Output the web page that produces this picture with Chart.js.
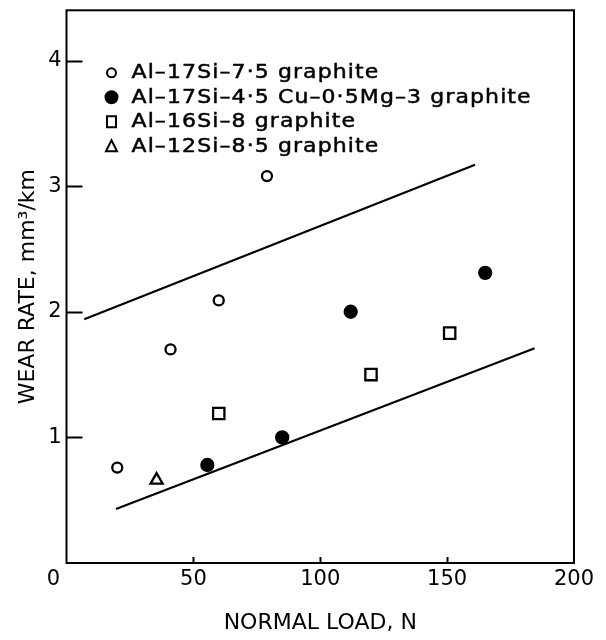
<!DOCTYPE html>
<html><head><meta charset="utf-8">
<script src="https://cdn.jsdelivr.net/npm/chart.js@4/dist/chart.umd.min.js"></script>
<style>html,body{margin:0;padding:0;background:#fff;}</style>
</head><body>
<canvas id="c" width="606" height="640"></canvas>
<script>
// ---- data ----
const seriesLabels = ['Al–17Si–7·5 graphite', 'Al–17Si–4·5 Cu–0·5Mg–3 graphite', 'Al–16Si–8 graphite', 'Al–12Si–8·5 graphite'];
const openCircleX = [20, 41, 60, 79];
const openCircleY = [0.76, 1.70, 2.09, 3.08];
const filledCircleX = [55.5, 85, 112, 165];
const filledCircleY = [0.78, 1.00, 2.00, 2.31];
const squareX = [60, 120, 151];
const squareY = [1.19, 1.50, 1.83];
const triangleX = [35.5];
const triangleY = [0.66];
const upperBandX = [7, 161];
const upperBandY = [1.94, 3.17];
const lowerBandX = [19.5, 184.5];
const lowerBandY = [0.43, 1.71];
const xTicks = [0, 50, 100, 150, 200];
const yTicks = [1, 2, 3, 4];
const xTitle = 'NORMAL LOAD, N';
const yTitle = 'WEAR RATE, mm³/km';

const ink = '#000';
const fam = "'DejaVu Sans', sans-serif";
const pts = (xs, ys) => xs.map((x, i) => ({x, y: ys[i]}));

const markerStyles = [
  {style: 'circle', r: 5, fill: '#fff'},
  {style: 'circle', r: 6, fill: ink},
  {style: 'rect', r: 8, fill: '#fff'},
  {style: 'triangle', r: 7, fill: '#fff'}
];

const framePlugin = {
  id: 'frame',
  afterDraw(chart) {
    const {ctx, chartArea: a, scales} = chart;
    ctx.save();
    ctx.strokeStyle = ink;
    ctx.lineWidth = 2;
    ctx.strokeRect(a.left, a.top, a.right - a.left, a.bottom - a.top);
    ctx.beginPath();
    scales.y.ticks.forEach(t => {
      const py = Math.round(scales.y.getPixelForValue(t.value)) + 0.5;
      ctx.moveTo(a.left, py); ctx.lineTo(a.left + 16, py);
    });
    scales.x.ticks.forEach(t => {
      if (t.value <= 0 || t.value >= 200) return;
      const px = Math.round(scales.x.getPixelForValue(t.value)) + 0.5;
      ctx.moveTo(px, a.bottom); ctx.lineTo(px, a.bottom - 6);
    });
    ctx.stroke();

    // shared origin label at the lower-left corner
    ctx.fillStyle = ink;
    ctx.font = '21px ' + fam;
    ctx.textAlign = 'center';
    ctx.textBaseline = 'middle';
    ctx.fillText('0', a.left - 13, scales.x.top + 4 + 12.6);

    // legend inside the plot area
    const mx = a.left + 45, tx = a.left + 65;
    seriesLabels.forEach((lab, i) => {
      const y = a.top + 62.5 + i * 24.5;
      const m = markerStyles[i];
      ctx.lineWidth = 2;
      ctx.strokeStyle = ink;
      ctx.fillStyle = m.fill;
      ctx.beginPath();
      if (i === 0) {
        ctx.arc(mx, y, 4.5, 0, Math.PI * 2);
      } else if (i === 1) {
        ctx.arc(mx, y, 6, 0, Math.PI * 2);
      } else if (i === 2) {
        ctx.rect(mx - 4.5, y - 5.5, 9, 11);
      } else {
        ctx.moveTo(mx, y - 6); ctx.lineTo(mx + 5.5, y + 5); ctx.lineTo(mx - 5.5, y + 5); ctx.closePath();
      }
      ctx.fill(); ctx.stroke();
      ctx.save();
      ctx.fillStyle = ink;
      ctx.strokeStyle = ink;
      ctx.lineWidth = 0.5;
      ctx.font = '20px ' + fam;
      ctx.textAlign = 'left';
      ctx.textBaseline = 'middle';
      try { ctx.letterSpacing = '1px'; } catch (e) {}
      ctx.translate(tx, y);
      ctx.scale(1.1, 1);
      ctx.fillText(lab, 0, 0);
      ctx.strokeText(lab, 0, 0);
      ctx.restore();
    });
    ctx.restore();
  }
};

const markerDatasets = [
  [openCircleX, openCircleY], [filledCircleX, filledCircleY], [squareX, squareY], [triangleX, triangleY]
].map(([xs, ys], i) => ({
  label: seriesLabels[i],
  data: pts(xs, ys),
  pointStyle: markerStyles[i].style,
  pointRadius: markerStyles[i].r,
  pointBackgroundColor: markerStyles[i].fill,
  pointBorderColor: ink,
  pointBorderWidth: 2.3,
  showLine: false
}));

const lineDatasets = [[upperBandX, upperBandY], [lowerBandX, lowerBandY]].map(([xs, ys], i) => ({
  label: i === 0 ? 'upper bound' : 'lower bound',
  data: pts(xs, ys),
  showLine: true,
  pointRadius: 0,
  borderColor: ink,
  borderWidth: 2.2,
  fill: false
}));

const noPad = s => { s.paddingTop = 0; s.paddingBottom = 0; s.paddingLeft = 0; s.paddingRight = 0; };

new Chart(document.getElementById('c'), {
  type: 'scatter',
  data: {datasets: [...lineDatasets, ...markerDatasets]},
  options: {
    responsive: false,
    animation: false,
    devicePixelRatio: 1,
    layout: {padding: {left: 10, right: 32, top: 9, bottom: 0}},
    plugins: {legend: {display: false}, tooltip: {enabled: false}},
    scales: {
      x: {
        type: 'linear', min: 0, max: 200,
        afterBuildTicks: s => { s.ticks = xTicks.map(v => ({value: v})); },
        afterFit: s => { s.height = 77; noPad(s); },
        grid: {display: false, drawTicks: false},
        border: {display: false},
        ticks: {padding: 4, color: ink, font: {family: fam, size: 21}, maxRotation: 0, autoSkip: false,
                callback: v => (v === 0 ? '' : String(v))},
        title: {display: true, text: xTitle, color: ink, font: {family: fam, size: 22}, padding: {top: 4, bottom: 4}}
      },
      y: {
        type: 'linear', min: 0, max: 4.4,
        afterBuildTicks: s => { s.ticks = yTicks.map(v => ({value: v})); },
        afterFit: s => { s.width = 56.5; noPad(s); },
        grid: {display: false, drawTicks: false},
        border: {display: false},
        ticks: {padding: 5, color: ink, font: {family: fam, size: 21}, autoSkip: false},
        title: {display: true, text: yTitle, color: ink, font: {family: fam, size: 22}, padding: {top: 5, bottom: 4}}
      }
    }
  },
  plugins: [framePlugin]
});
</script>
</body></html>
